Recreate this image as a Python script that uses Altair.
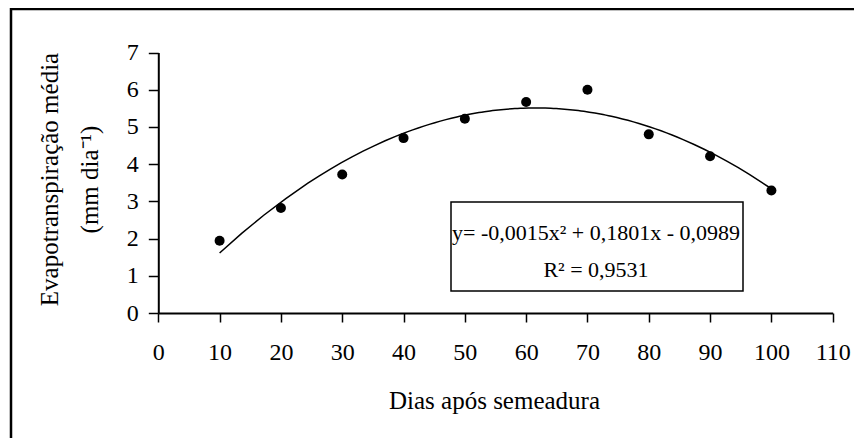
import altair as alt
import pandas as pd

# ---- data ----
dias = [10, 20, 30, 40, 50, 60, 70, 80, 90, 100]
et = [1.94, 2.82, 3.72, 4.70, 5.22, 5.67, 6.00, 4.80, 4.21, 3.29]
x_ticks = [0, 10, 20, 30, 40, 50, 60, 70, 80, 90, 100, 110]
y_ticks = [0, 1, 2, 3, 4, 5, 6, 7]
x_title = "Dias após semeadura"
y_title = ["Evapotranspiração média", "(mm dia⁻¹)"]
eq_lines = ["y= -0,0015x² + 0,1801x - 0,0989", "R² = 0,9531"]

df = pd.DataFrame({"dias": dias, "et": et})
one = pd.DataFrame({"k": [0]})

FONT = "Liberation Serif"
W, H = 844, 430
X0, X1 = 148.3, 822.7   # plot range inside the framed view
Y0, Y1 = 305.0, 44.5

xs = alt.Scale(domain=[0, 110], range=[X0, X1], nice=False, zero=False)
ys = alt.Scale(domain=[0, 7], range=[Y0, Y1], nice=False, zero=False)

x_axis = alt.Axis(
    values=x_ticks, orient="bottom", offset=Y0 - H, grid=False,
    labelFont=FONT, labelFontSize=24, labelColor="black", labelPadding=18,
    labelFlush=False, labelOverlap=False,
    tickSize=9, tickColor="black", tickWidth=1.5,
    domainColor="black", domainWidth=2,
    title=x_title, titleFont=FONT, titleFontSize=25, titleFontWeight="normal",
    titleColor="black", titleX=484, titleY=95, titleAlign="center",
    titleBaseline="alphabetic",
)
y_axis = alt.Axis(
    values=y_ticks, orient="left", offset=-X0, grid=False,
    labelFont=FONT, labelFontSize=24, labelColor="black", labelPadding=10,
    labelFlush=False, labelOverlap=False,
    tickSize=10, tickColor="black", tickWidth=1.5,
    domainColor="black", domainWidth=2,
    title=y_title, titleFont=FONT, titleFontSize=25, titleFontWeight="normal",
    titleColor="black", titleX=-101, titleY=171, titleAlign="center",
    titleBaseline="alphabetic", titleAngle=270, titleLineHeight=40,
)

base = alt.Chart(df).encode(
    x=alt.X("dias:Q", scale=xs, axis=x_axis),
    y=alt.Y("et:Q", scale=ys, axis=y_axis),
)

curve = base.transform_regression(
    "dias", "et", method="poly", order=2
).mark_line(color="black", strokeWidth=1.5)

points = base.mark_circle(size=100, color="black", opacity=1)

frame_left = alt.Chart(one).mark_rule(color="black", strokeWidth=2.5).encode(
    x=alt.value(1), y=alt.value(0), y2=alt.value(H)
)
frame_top = alt.Chart(one).mark_rule(color="black", strokeWidth=2.5).encode(
    x=alt.value(0), x2=alt.value(W), y=alt.value(1)
)

box = alt.Chart(one).mark_rect(fill="white", stroke="black", strokeWidth=1.5).encode(
    x=alt.value(441), x2=alt.value(733), y=alt.value(194), y2=alt.value(283)
)
eq1 = alt.Chart(one).mark_text(
    font=FONT, fontSize=22, color="black", align="center", baseline="alphabetic"
).encode(x=alt.value(586), y=alt.value(232), text=alt.value(eq_lines[0]))
eq2 = alt.Chart(one).mark_text(
    font=FONT, fontSize=22, color="black", align="center", baseline="alphabetic"
).encode(x=alt.value(586), y=alt.value(269), text=alt.value(eq_lines[1]))

chart = alt.layer(
    points, curve, frame_left, frame_top, box, eq1, eq2
).properties(
    width=W, height=H,
    padding={"left": 2, "top": 0, "right": 0, "bottom": 0},
    autosize=alt.AutoSizeParams(type="none"),
    background="white",
).configure_view(stroke=None)

chart.save("out.html", embed_options={"renderer": "svg", "actions": False})
